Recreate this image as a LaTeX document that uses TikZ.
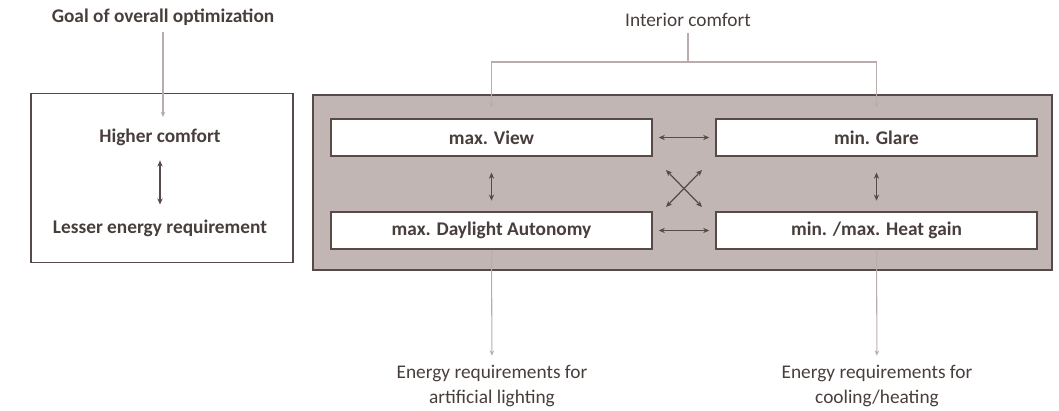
\documentclass[tikz,border=0pt]{standalone}
\usepackage{fontspec}
\setmainfont{Carlito}
\usetikzlibrary{arrows.meta}
\definecolor{frame}{RGB}{88,74,72}
\definecolor{boxgray}{RGB}{193,182,180}
\definecolor{flowline}{RGB}{186,172,170}
\definecolor{ink}{RGB}{72,62,60}
\begin{document}
\begin{tikzpicture}[x=0.02cm,y=-0.02cm,every node/.style={font=\fontsize{11}{14}\selectfont,text=ink},
  label/.style={font=\fontsize{11}{14}\selectfont\bfseries},
  aimbox/.style={draw=frame,fill=white,line width=0.9pt,minimum width=6.42cm,minimum height=0.74cm,label},
  flow/.style={draw=flowline,line width=0.6pt,-{Stealth[length=3pt,width=2.6pt]}},
  trade/.style={draw=frame,line width=0.7pt,{Stealth[length=3.5pt,width=3pt]}-{Stealth[length=3.5pt,width=3pt]}}]
\useasboundingbox (0,0) rectangle (1059,411);
% goal of the optimization
\node[draw=frame,line width=1.1pt,minimum width=5.24cm,minimum height=3.38cm] (goalbox) at (162,178) {};
\node[label] (goal) at (163,17) {Goal of overall optimization};
\node[label] (higher) at (160,137) {Higher comfort};
\node[label] (lesser) at (160,228) {Lesser energy requirement};
\draw[flow,shorten >=3pt] (goal) -- (goal|-higher.north);
\draw[trade,shorten <=5pt,shorten >=5pt] (higher) -- (lesser);
% interior comfort targets
\node[draw=frame,fill=boxgray,line width=1.2pt,minimum width=14.78cm,minimum height=3.5cm] (comfort) at (682.5,182.5) {};
\node[aimbox] (view) at (491.5,137.5) {max. View};
\node[aimbox] (glare) at (876.5,137.5) {min. Glare};
\node[aimbox] (daylight) at (491.5,230.5) {max. Daylight Autonomy};
\node[aimbox] (heat) at (876.5,230.5) {min. /max. Heat gain};
\draw[trade,shorten <=3.4pt,shorten >=3.4pt] (view) -- (glare);
\draw[trade,shorten <=3.4pt,shorten >=3.4pt] (daylight) -- (heat);
\draw[trade,shorten <=9pt,shorten >=6pt] (view) -- (daylight);
\draw[trade,shorten <=9pt,shorten >=6pt] (glare) -- (heat);
\coordinate (xa) at (666,170); \coordinate (xb) at (702,207);
\coordinate (xc) at (666,207); \coordinate (xd) at (702,170);
\draw[trade] (xa) -- (xb);
\draw[trade] (xc) -- (xd);
% inputs and outputs
\node (interior) at (688,20) {Interior comfort};
\coordinate (split) at (688,62);
\draw[draw=flowline,line width=0.6pt] (interior) -- (split);
\foreach \n in {view,glare} \draw[flow,shorten >=6pt] (split) -| (\n.north);
\node[align=center] (lightneed) at (492,386) {Energy requirements for\\artificial lighting};
\node[align=center] (heatneed) at (877,386) {Energy requirements for\\cooling/heating};
\draw[flow,shorten >=2pt] (daylight) -- (lightneed);
\draw[flow,shorten >=2pt] (heat) -- (heatneed);
\end{tikzpicture}
\end{document}
